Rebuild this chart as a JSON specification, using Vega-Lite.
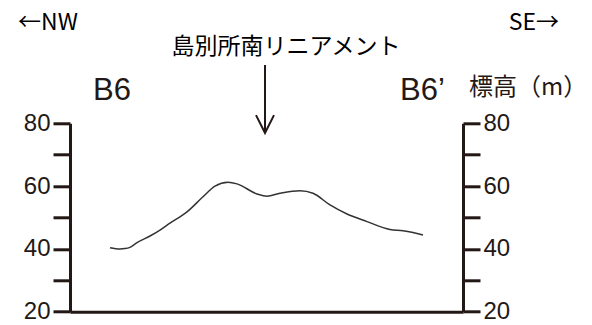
{
  "$schema": "https://vega.github.io/schema/vega-lite/v6.json",
  "width": 393,
  "height": 188.4,
  "autosize": "none",
  "padding": {"left": 70, "top": 123.3, "right": 129, "bottom": 13.3},
  "background": "#ffffff",
  "config": {"view": {"stroke": null}},
  "datasets": {
    "profile": [
      {"d": 40, "elev": 40.4}, {"d": 50, "elev": 40.0}, {"d": 55, "elev": 40.1}, {"d": 60, "elev": 40.5},
      {"d": 67, "elev": 42.0}, {"d": 80, "elev": 44.1}, {"d": 90, "elev": 46.0}, {"d": 100, "elev": 48.2},
      {"d": 117, "elev": 51.8}, {"d": 133, "elev": 56.6}, {"d": 145, "elev": 60.0}, {"d": 158, "elev": 61.2},
      {"d": 167, "elev": 60.7}, {"d": 187, "elev": 57.5}, {"d": 197, "elev": 56.8}, {"d": 210, "elev": 57.7},
      {"d": 230, "elev": 58.5}, {"d": 243, "elev": 57.7}, {"d": 260, "elev": 54.0}, {"d": 277, "elev": 51.1},
      {"d": 297, "elev": 48.7}, {"d": 320, "elev": 46.2}, {"d": 333, "elev": 45.8}, {"d": 343, "elev": 45.2},
      {"d": 353, "elev": 44.4}
    ],
    "arrowhead": [
      {"d": 186, "elev": 82.6}, {"d": 195, "elev": 76.9}, {"d": 204, "elev": 82.6}
    ],
    "shaft": [{"d": 195, "elev": 98.6, "elev2": 77.2}],
    "dirL": [{"d": -52, "elev": 109.7, "txt": "←NW"}],
    "dirR": [{"d": 489, "elev": 109.7, "txt": "SE→"}],
    "title": [{"d": 216, "elev": 104.3, "txt": "島別所南リニアメント"}],
    "endL": [{"d": 42, "elev": 87.4, "txt": "B6"}],
    "endR": [{"d": 330, "elev": 87.4, "txt": "B6’"}],
    "unit": [{"d": 399, "elev": 91.2, "txt": "標高（m）"}]
  },
  "resolve": {"scale": {"y": "independent"}},
  "layer": [
    {
      "data": {"name": "profile"},
      "mark": {"type": "line", "color": "#333333", "strokeWidth": 1.5, "interpolate": "monotone"},
      "encoding": {
        "x": {"field": "d", "type": "quantitative", "scale": {"domain": [0, 393], "nice": false, "zero": false},
          "axis": {"orient": "bottom", "ticks": false, "labels": false, "grid": false, "title": null, "domainWidth": 3, "domainColor": "#231815"}},
        "y": {"field": "elev", "type": "quantitative", "scale": {"domain": [20, 80], "nice": false, "zero": false},
          "axis": {"orient": "left", "values": [20, 30, 40, 50, 60, 70, 80], "labelExpr": "datum.value % 20 === 0 ? datum.label : ''",
            "tickSize": 17, "tickWidth": 3, "domainWidth": 3, "tickColor": "#231815", "domainColor": "#231815",
            "labelFont": "Liberation Sans", "labelFontSize": 24, "labelColor": "#231815", "labelPadding": 3,
            "labelOverlap": false, "labelBound": false, "labelFlush": false, "grid": false, "title": null}}
      }
    },
    {
      "data": {"name": "profile"},
      "mark": {"type": "line", "opacity": 0},
      "encoding": {
        "x": {"field": "d", "type": "quantitative"},
        "y": {"field": "elev", "type": "quantitative", "scale": {"domain": [20, 80], "nice": false, "zero": false},
          "axis": {"orient": "right", "values": [20, 30, 40, 50, 60, 70, 80], "labelExpr": "datum.value % 20 === 0 ? datum.label : ''",
            "tickSize": 17, "tickWidth": 3, "domainWidth": 3, "tickColor": "#231815", "domainColor": "#231815",
            "labelFont": "Liberation Sans", "labelFontSize": 24, "labelColor": "#231815", "labelPadding": 3,
            "labelOverlap": false, "labelBound": false, "labelFlush": false, "grid": false, "title": null}}
      }
    },
    {
      "data": {"name": "shaft"},
      "mark": {"type": "rule", "color": "#231815", "strokeWidth": 2},
      "encoding": {
        "x": {"field": "d", "type": "quantitative"},
        "y": {"field": "elev", "type": "quantitative", "scale": {"domain": [20, 80], "nice": false, "zero": false}, "axis": null},
        "y2": {"field": "elev2"}
      }
    },
    {
      "data": {"name": "arrowhead"},
      "mark": {"type": "line", "color": "#231815", "strokeWidth": 2, "clip": false},
      "encoding": {
        "x": {"field": "d", "type": "quantitative"},
        "y": {"field": "elev", "type": "quantitative", "scale": {"domain": [20, 80], "nice": false, "zero": false}, "axis": null}
      }
    },
    {
      "data": {"name": "dirL"},
      "mark": {"type": "text", "font": "Noto Sans CJK JP", "fontSize": 23, "color": "#000000", "baseline": "alphabetic", "align": "left"},
      "encoding": {
        "x": {"field": "d", "type": "quantitative"},
        "y": {"field": "elev", "type": "quantitative", "scale": {"domain": [20, 80], "nice": false, "zero": false}, "axis": null},
        "text": {"field": "txt"}
      }
    },
    {
      "data": {"name": "dirR"},
      "mark": {"type": "text", "font": "Noto Sans CJK JP", "fontSize": 23, "color": "#000000", "baseline": "alphabetic", "align": "right"},
      "encoding": {
        "x": {"field": "d", "type": "quantitative"},
        "y": {"field": "elev", "type": "quantitative", "scale": {"domain": [20, 80], "nice": false, "zero": false}, "axis": null},
        "text": {"field": "txt"}
      }
    },
    {
      "data": {"name": "title"},
      "mark": {"type": "text", "font": "Noto Sans CJK JP", "fontSize": 23, "color": "#000000", "baseline": "middle", "align": "center"},
      "encoding": {
        "x": {"field": "d", "type": "quantitative"},
        "y": {"field": "elev", "type": "quantitative", "scale": {"domain": [20, 80], "nice": false, "zero": false}, "axis": null},
        "text": {"field": "txt"}
      }
    },
    {
      "data": {"name": "endL"},
      "mark": {"type": "text", "font": "Liberation Sans", "fontSize": 31, "color": "#231815", "baseline": "alphabetic", "align": "center"},
      "encoding": {
        "x": {"field": "d", "type": "quantitative"},
        "y": {"field": "elev", "type": "quantitative", "scale": {"domain": [20, 80], "nice": false, "zero": false}, "axis": null},
        "text": {"field": "txt"}
      }
    },
    {
      "data": {"name": "endR"},
      "mark": {"type": "text", "font": "Liberation Sans", "fontSize": 31, "color": "#231815", "baseline": "alphabetic", "align": "left"},
      "encoding": {
        "x": {"field": "d", "type": "quantitative"},
        "y": {"field": "elev", "type": "quantitative", "scale": {"domain": [20, 80], "nice": false, "zero": false}, "axis": null},
        "text": {"field": "txt"}
      }
    },
    {
      "data": {"name": "unit"},
      "mark": {"type": "text", "font": "Noto Sans CJK JP", "fontSize": 24, "color": "#231815", "baseline": "middle", "align": "left"},
      "encoding": {
        "x": {"field": "d", "type": "quantitative"},
        "y": {"field": "elev", "type": "quantitative", "scale": {"domain": [20, 80], "nice": false, "zero": false}, "axis": null},
        "text": {"field": "txt"}
      }
    }
  ]
}
